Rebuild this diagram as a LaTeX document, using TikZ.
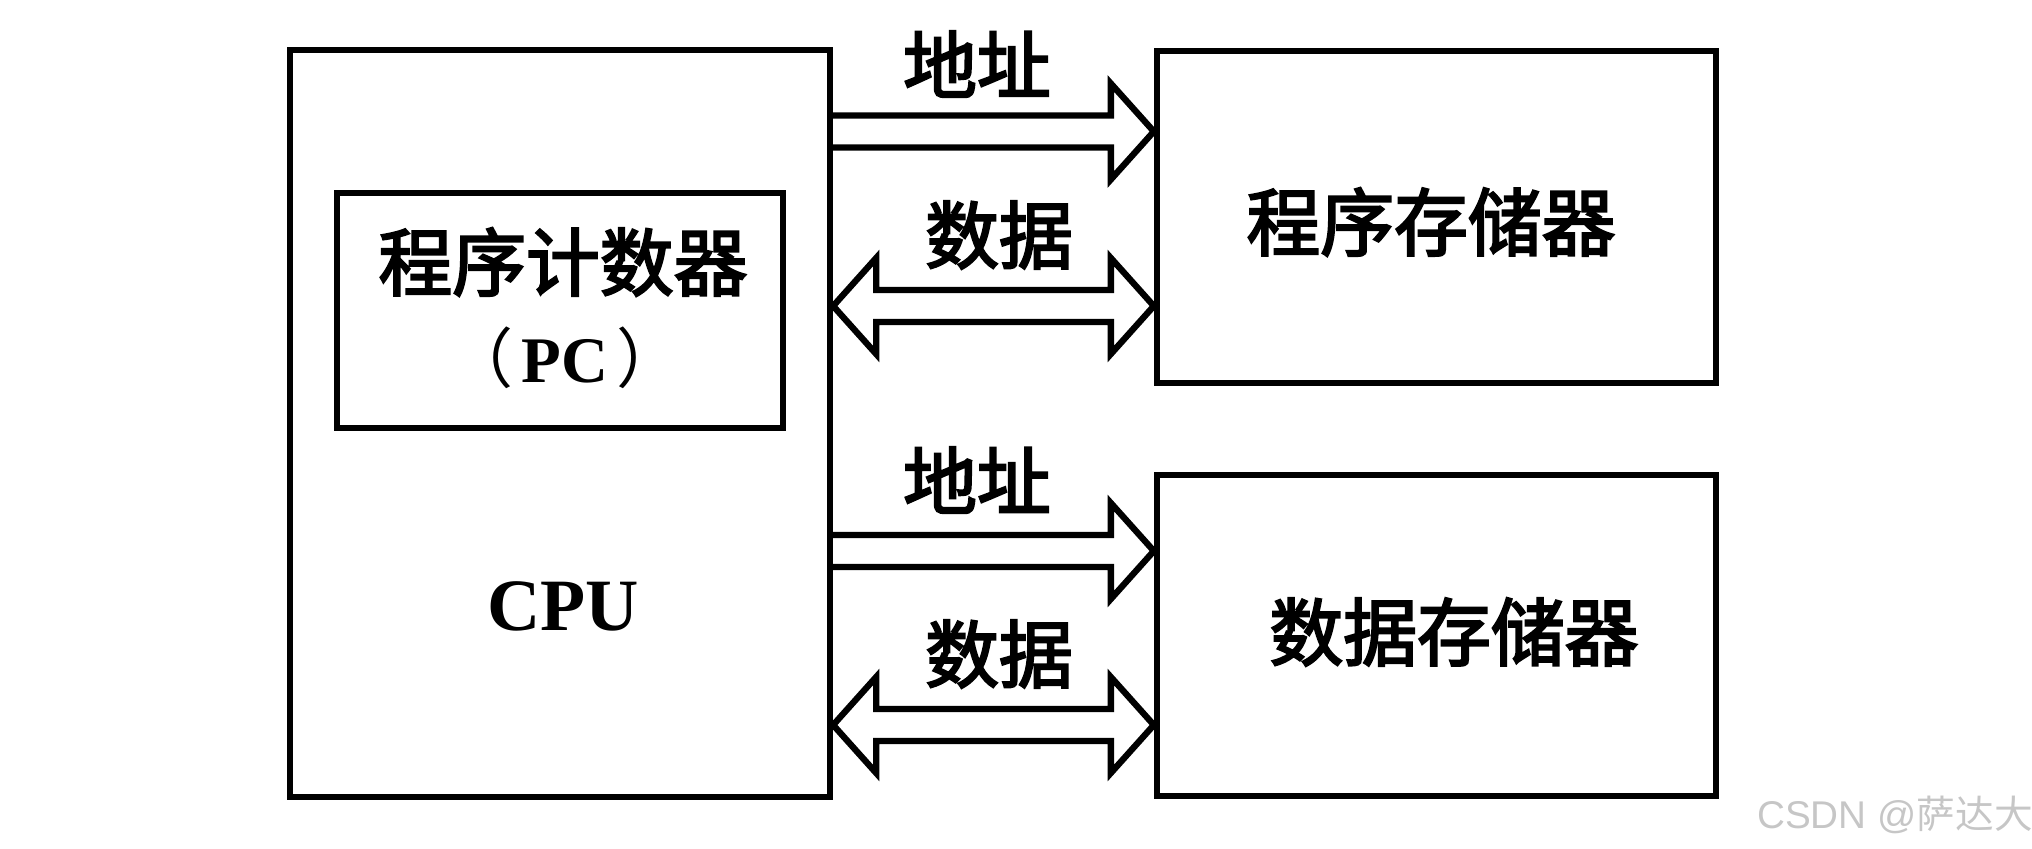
\documentclass[tikz,border=0pt]{standalone}
\usepackage{fontspec}
\setmainfont{Liberation Serif}
\setsansfont{Liberation Sans}
\newfontfamily\cjk{Noto Sans CJK SC}
\newfontfamily\cjkmid[FakeBold=3]{Noto Sans CJK SC}
\usetikzlibrary{calc}
\newcommand{\busgap}{0.16}
\newcommand{\headwd}{0.48}
\newcommand{\headlen}{0.43}
\tikzset{unit box/.style={
    draw,
    line width=1.8pt,
    inner sep=0pt
  },
  cn label/.style={
    font=\cjkmid\fontsize{21}{21}\selectfont,
    inner sep=0pt
  },
  en label/.style={
    font=\bfseries\fontsize{#1}{#1}\selectfont,
    inner sep=0pt
  },
  en label/.default=21,
  bus/.style={line width=1.8pt, line join=miter},
  bus to/.style={bus, to path={
      ($(\tikztostart)+(0,\busgap)$) -- ($(\tikztotarget)+(-\headlen,\busgap)$)
      -- ($(\tikztotarget)+(-\headlen,\headwd)$) -- (\tikztotarget)
      -- ($(\tikztotarget)+(-\headlen,-\headwd)$) -- ($(\tikztotarget)+(-\headlen,-\busgap)$)
      -- ($(\tikztostart)+(0,-\busgap)$)}
  },
  bus both/.style={bus, to path={
      (\tikztostart) -- ($(\tikztostart)+(\headlen,\headwd)$) -- ($(\tikztostart)+(\headlen,\busgap)$)
      -- ($(\tikztotarget)+(-\headlen,\busgap)$) -- ($(\tikztotarget)+(-\headlen,\headwd)$)
      -- (\tikztotarget) -- ($(\tikztotarget)+(-\headlen,-\headwd)$)
      -- ($(\tikztotarget)+(-\headlen,-\busgap)$) -- ($(\tikztostart)+(\headlen,-\busgap)$)
      -- ($(\tikztostart)+(\headlen,-\headwd)$) -- cycle}
  }
}
\begin{document}
\begin{tikzpicture}
    \useasboundingbox (0,0) rectangle (20.32,8.48);
    % units
    \node[unit box, minimum width=5.40cm, minimum height=7.47cm] (cpu) at (5.60,4.245) {};
    \node[unit box, minimum width=4.46cm, minimum height=2.35cm] (pc) at (5.60,5.375) {};
    \node[unit box, minimum width=5.59cm, minimum height=3.32cm] (progmem) at (14.365,6.31) {};
    \node[unit box, minimum width=5.59cm, minimum height=3.21cm] (datamem) at (14.365,2.125) {};
    \node[cn label] (pcname) at (5.63,5.86) {程序计数器};
    \node[en label=18.5] (pcabbr) at (5.65,4.90) {{\cjk\mdseries （}\kern0.12em PC\kern0.12em{\cjk\mdseries ）}};
    \node[en label] (cpuname) at (5.63,2.42) {CPU};
    \node[cn label] (progname) at (14.31,6.26) {程序存储器};
    \node[cn label] (dataname) at (14.54,2.16) {数据存储器};
    % buses
    \draw[bus to] (cpu.east |- 0,7.165) to (progmem.west |- 0,7.165);
    \draw[bus both] (cpu.east |- 0,5.42) to (progmem.west |- 0,5.42);
    \draw[bus to] (cpu.east |- 0,2.97) to (datamem.west |- 0,2.97);
    \draw[bus both] (cpu.east |- 0,1.23) to (datamem.west |- 0,1.23);
    \node[cn label] (addr1) at (9.77,7.84) {地址};
    \node[cn label] (data1) at (9.99,6.13) {数据};
    \node[cn label] (addr2) at (9.77,3.68) {地址};
    \node[cn label] (data2) at (9.99,1.94) {数据};
    \node[text=gray!45, font=\sffamily\fontsize{11}{11}\selectfont, inner sep=0pt] (mark) at (18.95,0.33) {CSDN @{\cjk 萨达大}};
\end{tikzpicture}
\end{document}
